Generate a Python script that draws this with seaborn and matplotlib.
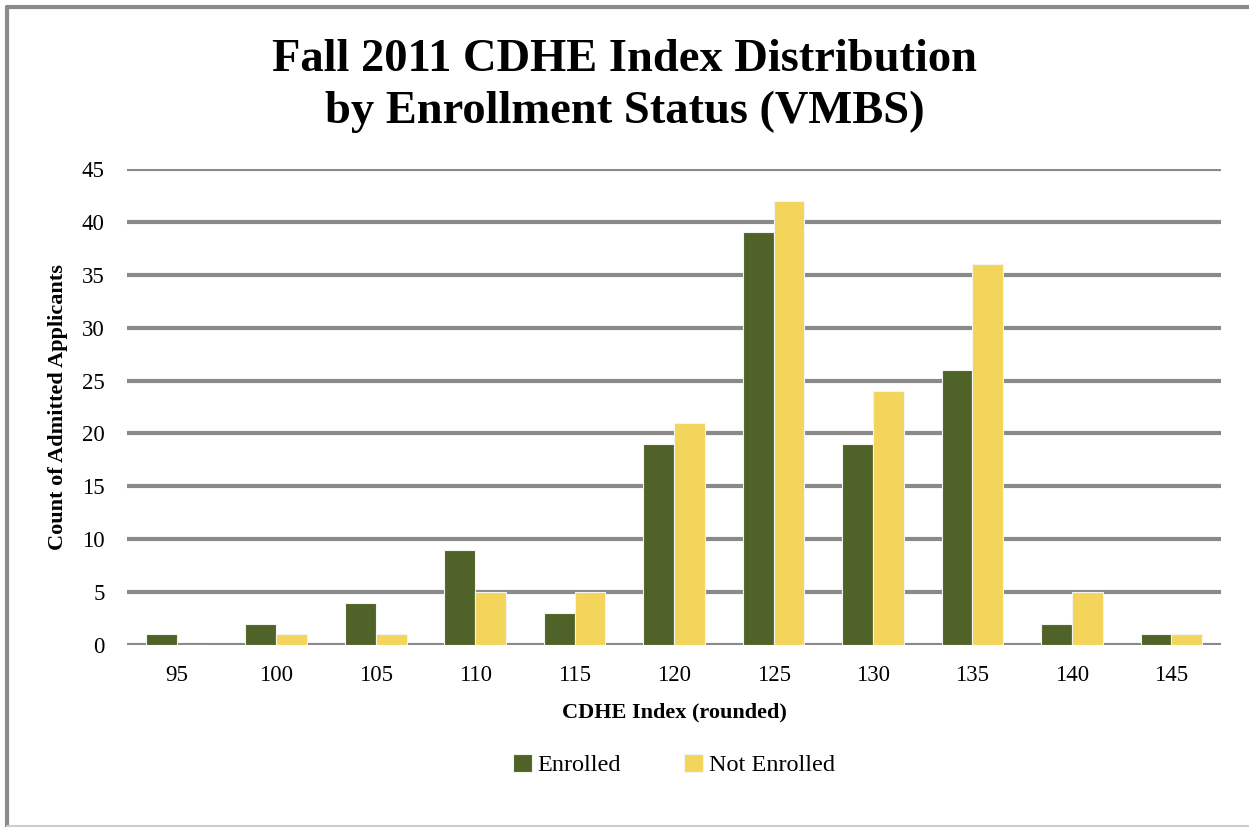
import numpy as np
import pandas as pd
import matplotlib.pyplot as plt
import matplotlib.lines as mlines
import seaborn as sns

# data
index_bins = ["95", "100", "105", "110", "115", "120", "125", "130", "135", "140", "145"]
enrolled = [1, 2, 4, 9, 3, 19, 39, 19, 26, 2, 1]
not_enrolled = [0, 1, 1, 5, 5, 21, 42, 24, 36, 5, 1]
status_labels = ["Enrolled", "Not Enrolled"]
y_ticks = [0, 5, 10, 15, 20, 25, 30, 35, 40, 45]

df = pd.DataFrame({
    "CDHE": index_bins * 2,
    "Count": enrolled + not_enrolled,
    "Status": [status_labels[0]] * len(index_bins) + [status_labels[1]] * len(index_bins),
})

sns.set_theme(style="white")
plt.rcParams["font.family"] = ["Liberation Serif", "DejaVu Serif"]
plt.rcParams["text.color"] = "black"

fig = plt.figure(figsize=(12.49, 8.27), dpi=100)
ax = fig.add_axes([0.1017, 0.220, 0.876, 0.5757])

palette = {"Enrolled": "#4F6228", "Not Enrolled": "#F3D55B"}
sns.barplot(data=df, x="CDHE", y="Count", hue="Status", order=index_bins,
            hue_order=status_labels, palette=palette, width=0.62,
            edgecolor="#F4F4EE", linewidth=0.8, saturation=1, ax=ax, zorder=3)

# gridlines
ax.set_ylim(0, 45)
ax.set_yticks(y_ticks)
ax.yaxis.grid(True, color="#898989", linewidth=3, zorder=0)
ax.set_axisbelow(True)
for s in ax.spines.values():
    s.set_visible(False)
ax.tick_params(axis="both", length=0, labelsize=16.5, colors="black")
ax.tick_params(axis="x", pad=14)
ax.tick_params(axis="y", pad=16)

ax.set_xlabel("CDHE Index (rounded)", fontsize=16, fontweight="bold", labelpad=12, color="black")
ax.set_ylabel("Count of Admitted Applicants", fontsize=16, fontweight="bold", labelpad=10, color="black")

fig.suptitle("Fall 2011 CDHE Index Distribution\nby Enrollment Status (VMBS)",
             fontsize=33.5, fontweight="bold", y=0.953, va="top", linespacing=1.3,
             color="black")

leg = ax.legend(loc="upper center", bbox_to_anchor=(0.5, -0.183), ncol=2,
                frameon=False, fontsize=17.5, handlelength=0.75, handleheight=0.75,
                handletextpad=0.25, columnspacing=2.6)

# chart frame
fig.add_artist(mlines.Line2D([0.0056, 0.0056], [0.0, 0.9915], color="#8a8a8a", linewidth=3))
fig.add_artist(mlines.Line2D([0.0056, 1.0], [0.9915, 0.9915], color="#8a8a8a", linewidth=3))
fig.add_artist(mlines.Line2D([0.0056, 1.0], [0.0012, 0.0012], color="#cccccc", linewidth=1.5))

fig.savefig("out.png", dpi=100, facecolor="white")
